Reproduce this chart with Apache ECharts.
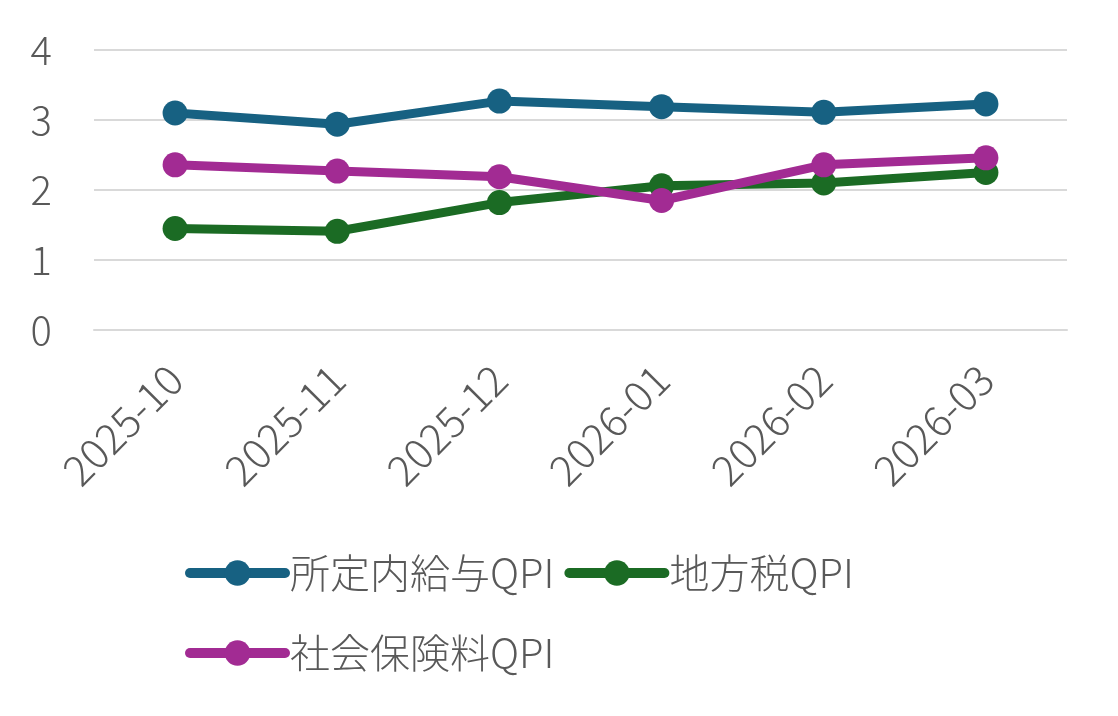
<!DOCTYPE html>
<html><head><meta charset="utf-8">
<script src="https://cdn.jsdelivr.net/npm/echarts@6/dist/echarts.min.js"></script>
<style>html,body{margin:0;padding:0;background:#fff}#c{width:1118px;height:716px}</style>
</head><body><div id="c"></div>
<script>
const categories = ['2025-10','2025-11','2025-12','2026-01','2026-02','2026-03'];
const seriesNames = ['所定内給与QPI','地方税QPI','社会保険料QPI'];
const wageQPI = [3.10, 2.94, 3.27, 3.19, 3.11, 3.23];
const localTaxQPI = [1.45, 1.41, 1.82, 2.06, 2.10, 2.25];
const socialInsQPI = [2.36, 2.27, 2.19, 1.85, 2.36, 2.46];
const yTicks = [0, 1, 2, 3, 4];
const colors = ['#176182', '#1b6b24', '#a22b93'];
const font = '"Noto Sans CJK JP", "Noto Sans", sans-serif';

const chart = echarts.init(document.getElementById('c'));
const mk = (name, data, color) => ({
  name, type: 'line', data,
  symbol: 'circle', symbolSize: 25,
  lineStyle: { width: 9, color, cap: 'round' },
  itemStyle: { color },
  emphasis: { disabled: true },
  animation: false
});
chart.setOption({
  animation: false,
  grid: { left: 94, right: 51, top: 50, bottom: 386 },
  legend: {
    left: 180, top: 533, width: 720,
    itemWidth: 95, itemHeight: 32, itemGap: 10,
    lineStyle: { width: 10, cap: 'round' },
    textStyle: { fontFamily: font, fontSize: 40, lineHeight: 70, color: '#595959', fontWeight: 300 },
    data: seriesNames
  },
  xAxis: {
    type: 'category', data: categories,
    axisLine: { show: true, lineStyle: { color: '#d9d9d9', width: 2 } },
    axisTick: { show: false },
    axisLabel: { rotate: 45, fontFamily: font, fontSize: 42, color: '#595959', margin: 42, fontWeight: 300 }
  },
  yAxis: {
    type: 'value', min: yTicks[0], max: yTicks[yTicks.length - 1], interval: 1,
    axisLine: { show: false }, axisTick: { show: false },
    splitLine: { lineStyle: { color: '#d9d9d9', width: 2 } },
    axisLabel: { fontFamily: font, fontSize: 40, color: '#595959', margin: 42, fontWeight: 300 }
  },
  series: [
    mk(seriesNames[0], wageQPI, colors[0]),
    mk(seriesNames[1], localTaxQPI, colors[1]),
    mk(seriesNames[2], socialInsQPI, colors[2])
  ]
});
</script></body></html>
